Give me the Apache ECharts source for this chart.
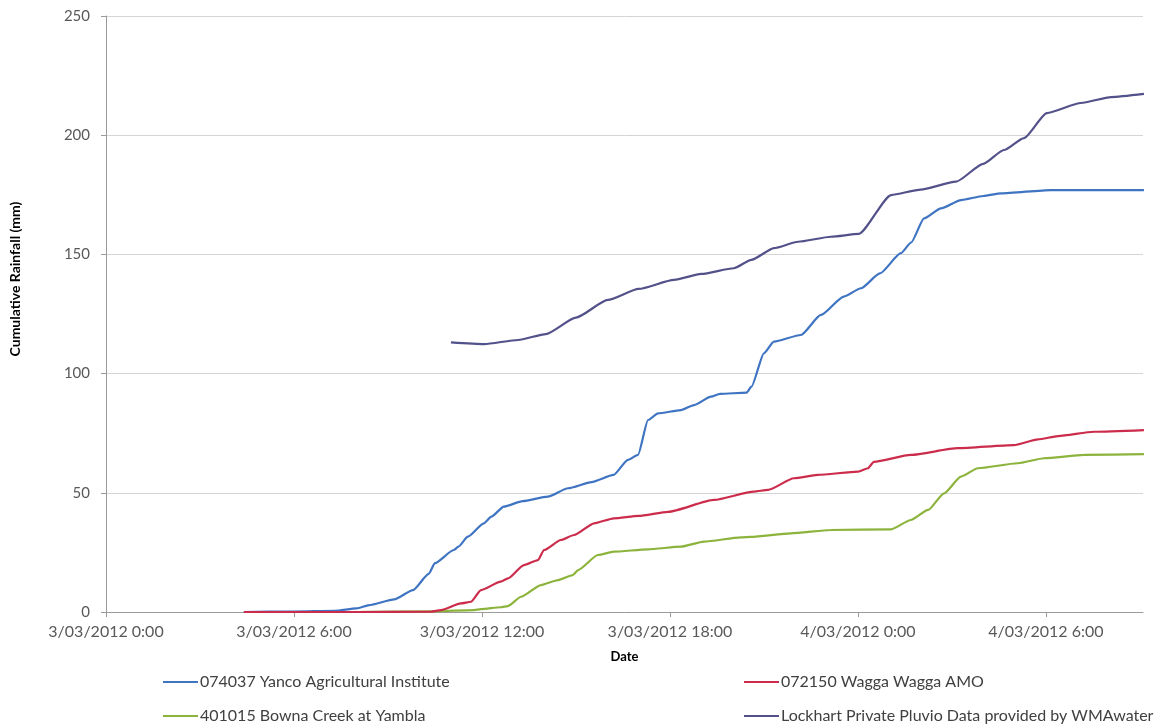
<!DOCTYPE html>
<html>
<head>
<meta charset="utf-8">
<title>Cumulative Rainfall</title>
<script src="https://cdn.jsdelivr.net/npm/echarts@6/dist/echarts.min.js"></script>
<style>
  html, body { margin: 0; padding: 0; background: #ffffff; }
  #chart { width: 1162px; height: 727px; }
</style>
</head>
<body>
<div id="chart"></div>
<script>
// Time is measured in hours since 3/03/2012 0:00
const xTickLabels = ['3/03/2012 0:00', '3/03/2012 6:00', '3/03/2012 12:00', '3/03/2012 18:00', '4/03/2012 0:00', '4/03/2012 6:00'];
const yTickValues = [0, 50, 100, 150, 200, 250];

const seriesNames = [
  '074037 Yanco Agricultural Institute',
  '072150 Wagga Wagga AMO',
  '401015 Bowna Creek at Yambla',
  'Lockhart Private Pluvio Data provided by WMAwater'
];

const yancoHours = [4.4, 6.0, 7.3, 8.0, 8.4, 9.2, 9.8, 10.3, 10.5, 11.1, 11.25, 11.55, 12.06, 12.3, 12.7, 13.3, 14.1, 14.75, 15.5, 16.2, 16.66, 16.98, 17.3, 17.62, 18.35, 18.77, 19.31, 19.6, 20.45, 20.6, 21.0, 21.32, 22.18, 22.82, 23.55, 24.1, 24.7, 25.37, 25.7, 26.11, 26.65, 27.29, 28.0, 28.57, 30.16, 33.13];
const yancoMm    = [0, 0.2, 0.5, 1.5, 2.9, 5.3, 9.2, 16.0, 20.5, 26.0, 27.4, 31.6, 37.2, 40.0, 44.2, 46.5, 48.4, 51.9, 54.5, 57.5, 63.8, 65.9, 80.5, 83.3, 84.7, 86.8, 90.3, 91.5, 92.0, 94.5, 108.5, 113.4, 116.2, 124.6, 132.3, 135.8, 142.0, 150.5, 155.0, 165.1, 169.3, 172.8, 174.5, 175.6, 177.0, 177.0];

const waggaHours = [4.4, 8.0, 10.37, 10.69, 11.33, 11.65, 11.97, 12.6, 12.83, 13.34, 13.79, 13.98, 14.52, 14.94, 15.58, 16.21, 17.0, 17.94, 19.41, 20.68, 21.13, 21.96, 22.72, 24.0, 24.32, 24.51, 25.69, 27.19, 28.98, 29.75, 30.39, 31.53, 33.13];
const waggaMm    = [0, 0, 0.1, 0.8, 3.6, 4.3, 9.2, 12.7, 14.1, 19.7, 21.8, 26.0, 30.2, 32.3, 37.2, 39.3, 40.3, 42.0, 47.0, 50.5, 51.2, 56.1, 57.5, 58.9, 60.3, 63.0, 65.9, 68.7, 70.0, 72.4, 73.8, 75.6, 76.3];

const bownaHours = [4.4, 8.0, 10.5, 11.75, 11.97, 12.6, 12.83, 13.25, 13.88, 14.43, 14.9, 15.07, 15.7, 16.21, 17.3, 18.35, 19.09, 20.27, 20.59, 21.86, 23.14, 25.06, 25.69, 26.24, 26.75, 27.29, 27.83, 29.1, 29.94, 31.22, 33.13];
const bownaMm    = [0, 0, 0.3, 0.8, 1.2, 2.0, 2.5, 6.4, 11.3, 13.4, 15.5, 17.6, 23.9, 25.3, 26.3, 27.4, 29.5, 31.3, 31.5, 33.0, 34.4, 34.7, 38.6, 42.8, 49.8, 56.8, 60.3, 62.4, 64.5, 65.9, 66.2];

const lockhartHours = [11.01, 12.07, 13.15, 14.04, 15.0, 16.02, 17.0, 18.13, 19.0, 20.04, 20.6, 21.32, 22.09, 23.14, 24.03, 25.06, 26.0, 27.13, 28.0, 28.66, 29.3, 30.03, 31.12, 32.08, 33.13];
const lockhartMm    = [113.1, 112.4, 114.1, 116.6, 123.5, 130.9, 135.5, 139.3, 141.8, 144.2, 147.7, 152.6, 155.3, 157.4, 158.6, 174.9, 177.2, 180.5, 188.0, 193.8, 198.8, 209.3, 213.5, 216.0, 217.3];

const colors = ['#3f74c2', '#cc2c4c', '#8cb43c', '#53518a'];

const pair = (xs, ys) => xs.map((x, i) => [x, ys[i]]);
const seriesData = [
  pair(yancoHours, yancoMm),
  pair(waggaHours, waggaMm),
  pair(bownaHours, bownaMm),
  pair(lockhartHours, lockhartMm)
];

const FONT = 'Lato, "Open Sans", sans-serif';
const chart = echarts.init(document.getElementById('chart'), null, { renderer: 'canvas' });

const legendPos = [
  { left: 163, top: 674 },
  { left: 744, top: 674 },
  { left: 163, top: 708 },
  { left: 744, top: 708 }
];

chart.setOption({
  backgroundColor: '#ffffff',
  animation: false,
  color: colors,
  grid: { left: 105, right: 19, top: 16, bottom: 115, containLabel: false },
  legend: seriesNames.map((name, i) => ({
    data: [name],
    left: legendPos[i].left,
    top: legendPos[i].top,
    orient: 'horizontal',
    icon: 'rect',
    itemWidth: 35,
    itemHeight: 2,
    padding: 0,
    selectedMode: false,
    textStyle: { fontFamily: FONT, fontSize: 16, color: '#404040', padding: [0, 0, 0, -3] }
  })),
  xAxis: {
    type: 'value',
    min: 0,
    max: 33.1,
    interval: 6,
    name: 'Date',
    nameLocation: 'middle',
    nameGap: 38,
    nameTextStyle: { fontFamily: FONT, fontSize: 13, fontWeight: 'bold', color: '#000000' },
    axisLine: { show: true, lineStyle: { color: '#9a9a9a', width: 1 } },
    axisTick: { show: true, length: 5, lineStyle: { color: '#9a9a9a' } },
    splitLine: { show: false },
    axisLabel: {
      fontFamily: FONT, fontSize: 16, color: '#595959', margin: 12,
      showMaxLabel: false,
      formatter: v => {
        const idx = Math.round(v / 6);
        return Math.abs(v - idx * 6) < 1e-6 && xTickLabels[idx] !== undefined ? xTickLabels[idx] : '';
      }
    }
  },
  yAxis: {
    type: 'value',
    min: yTickValues[0],
    max: yTickValues[yTickValues.length - 1],
    interval: 50,
    name: 'Cumulative Rainfall (mm)',
    nameLocation: 'middle',
    nameGap: 84,
    nameRotate: 90,
    nameTextStyle: { fontFamily: FONT, fontSize: 14, fontWeight: 'bold', color: '#000000', padding: [0, 0, 0, 70] },
    axisLine: { show: true, lineStyle: { color: '#9a9a9a', width: 1 } },
    axisTick: { show: true, length: 5, lineStyle: { color: '#9a9a9a' } },
    splitLine: { show: true, lineStyle: { color: '#d4d4d4', width: 1 } },
    axisLabel: { fontFamily: FONT, fontSize: 15, color: '#595959', margin: 16 }
  },
  series: seriesNames.map((name, i) => ({
    name: name,
    type: 'line',
    data: seriesData[i],
    symbol: 'none',
    smooth: 0.2,
    smoothMonotone: 'x',
    lineStyle: { width: 2.2, color: colors[i] },
    itemStyle: { color: colors[i] },
    z: 2 + (i === 2 ? 0 : 1)
  }))
});
</script>
</body>
</html>
